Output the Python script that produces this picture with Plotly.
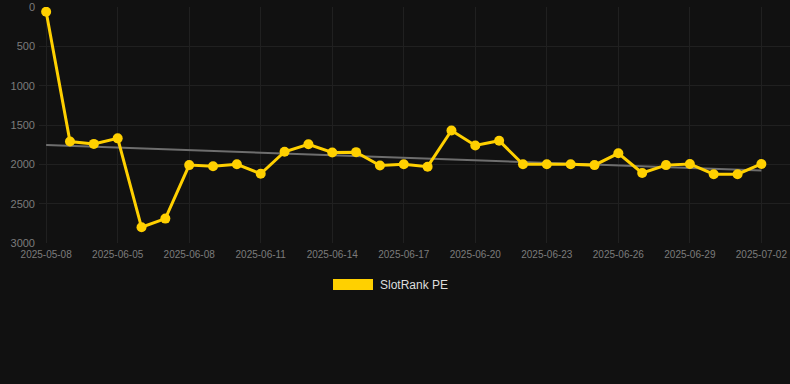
import numpy as np
import plotly.graph_objects as go

dates = ["2025-05-08"] + [f"2025-06-{d:02d}" for d in range(3, 31)] + ["2025-07-01", "2025-07-02"]
values = [60, 1710, 1740, 1670, 2800, 2690, 2010, 2025, 2000, 2120, 1840, 1745, 1850, 1845,
          2015, 2000, 2030, 1570, 1760, 1700, 2000, 2000, 2000, 2010, 1860, 2110, 2010, 1995,
          2125, 2125, 1995]
series_name = "SlotRank PE"
tick_labels = dates[::3]
y_ticks = [0, 500, 1000, 1500, 2000, 2500, 3000]

idx = np.arange(len(values))
slope, intercept = np.polyfit(idx, values, 1)
trend = slope * idx + intercept

fig = go.Figure()
fig.add_trace(go.Scatter(x=idx, y=trend, mode="lines",
                         line=dict(color="#6e6e6e", width=2), hoverinfo="skip",
                         showlegend=False))
fig.add_trace(go.Scatter(x=idx, y=values, mode="lines+markers", name=series_name,
                         line=dict(color="#ffd000", width=3),
                         marker=dict(color="#ffd000", size=10), showlegend=False))

L, R, T, B = 39, 0, 7, 141
W, H = 790, 384
pw, ph = W - L - R, H - T - B

def px(x):
    return (x - L) / pw

def py(y):
    return (H - B - y) / ph

fig.add_shape(type="rect", xref="paper", yref="paper",
              x0=px(333), x1=px(373), y0=py(290), y1=py(279),
              fillcolor="#ffd000", line=dict(width=0))
fig.add_annotation(xref="paper", yref="paper", x=px(378), y=py(285),
                   text=series_name, showarrow=False, xanchor="left", yanchor="middle",
                   font=dict(color="#dddddd", size=12))

fig.update_layout(
    width=W, height=H,
    margin=dict(l=L, r=R, t=T, b=B),
    paper_bgcolor="#111111", plot_bgcolor="#111111",
    font=dict(family="Liberation Sans, Arial, sans-serif", color="#7c7c7c"),
    showlegend=False,
    xaxis=dict(range=[-0.3, 31.2], tickmode="array",
               tickvals=list(idx[::3]), ticktext=tick_labels,
               showgrid=True, gridcolor="#202020", gridwidth=1, zeroline=False,
               tickfont=dict(size=10, color="#7c7c7c"), ticks="", showline=False,
               ticklabelstandoff=4),
    yaxis=dict(range=[3000, 0], tickvals=y_ticks,
               showgrid=True, gridcolor="#202020", gridwidth=1, zeroline=False,
               tickfont=dict(size=11, color="#7c7c7c"), ticks="", showline=False,
               ticklabelstandoff=3),
)

fig.write_html("out.html", config={"displayModeBar": False},
               post_script="document.body.style.margin='0';document.body.style.background='#111111';document.body.style.overflow='hidden';")
